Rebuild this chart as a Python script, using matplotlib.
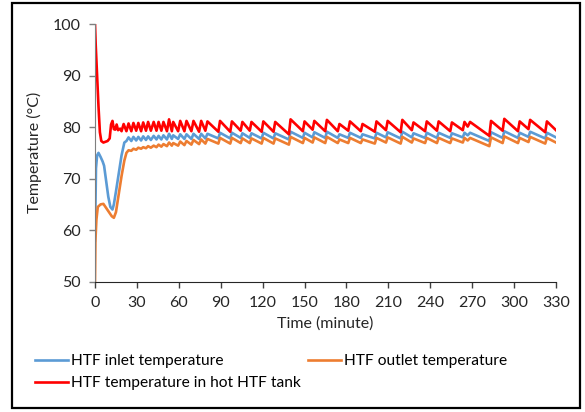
import matplotlib.pyplot as plt
from matplotlib.patches import Rectangle

# HTF temperatures vs time (minutes), vertices
t_tank = [0, 0.5, 1.5, 2.5, 3.5, 4.5, 6, 9, 10.5, 11.5, 12.5, 13.5, 14.5, 15.5, 16.5, 18, 19,
          20.5, 22.5, 24, 26, 27.5, 29.5, 31, 33, 34.5, 36.5, 38, 40, 42, 44, 45.5, 47.5, 49, 51.5,
          53, 55, 56, 59.5, 61, 64, 65.5, 69, 70.5, 74.5, 76, 79, 80.5,
          88.3, 89.5, 96.8, 98, 104.3, 105.5, 110.8, 112, 119.3, 120.5, 127.8, 129, 138.8, 140,
          148.8, 150, 155.8, 157, 164.8, 166, 173.8, 175, 181.3, 182.5, 190.3, 191.5, 200.3, 201.5,
          208.3, 209.5, 218.8, 220, 226.8, 228, 236.3, 237.5, 244.8, 246, 254.3, 255.5, 263.3, 264.5,
          266.8, 268.5, 282.3, 283.5, 291.8, 293, 302.8, 304, 310.3, 311.5, 322.3, 323.5, 330]
T_tank = [100, 96, 90, 84, 79, 77.3, 77.0, 77.3, 77.8, 80.5, 81.2, 79.6, 79.5, 80.5, 79.4, 79.7, 79.2,
          80.6, 79.2, 80.7, 79.2, 80.8, 79.3, 80.8, 79.2, 80.9, 79.3, 81.0, 79.3, 81.0, 79.3, 81.0, 79.3, 81.0, 79.2,
          81.5, 79.2, 81.0, 79.2, 81.2, 79.2, 81.2, 79.2, 81.2, 79.1, 81.2, 79.3, 81.1,
          79.1, 81.2, 79.1, 81.1, 79.3, 81.0, 79.3, 81.0, 79.1, 81.1, 79.1, 81.0, 78.6, 81.5,
          79.2, 81.1, 79.5, 81.2, 79.2, 81.4, 79.2, 80.6, 79.3, 81.1, 79.2, 80.6, 79.1, 81.1,
          79.4, 81.2, 79.0, 81.4, 79.4, 80.9, 79.2, 81.1, 79.3, 81.1, 79.2, 80.9, 79.4, 81.0,
          80.1, 81.0, 78.3, 81.2, 79.3, 81.6, 79.2, 81.1, 79.6, 81.4, 79.0, 81.1, 79.4]

t_in = [0, 0.7, 1.5, 2.5, 4, 5.5, 6.5, 8, 9.5, 11, 12.5, 13.5, 15, 17, 19, 21, 22.5,
        24, 26, 27.5, 29.5, 31, 33, 34.5, 36.5, 38, 40, 42, 44, 45.5, 47.5, 49, 51.5,
        53, 55, 56, 59.5, 61, 64, 65.5, 69, 70.5, 74.5, 76, 79, 80.5,
        88.3, 89.5, 96.8, 98, 104.3, 105.5, 110.8, 112, 119.3, 120.5, 127.8, 129, 138.8, 140,
        148.8, 150, 155.8, 157, 164.8, 166, 173.8, 175, 181.3, 182.5, 190.3, 191.5, 200.3, 201.5,
        208.3, 209.5, 218.8, 220, 226.8, 228, 236.3, 237.5, 244.8, 246, 254.3, 255.5, 263.3, 264.5,
        266.8, 268.5, 282.3, 283.5, 291.8, 293, 302.8, 304, 310.3, 311.5, 322.3, 323.5, 330]
T_in = [58, 72, 74.5, 75, 74.2, 73.3, 72.5, 69.5, 66.5, 64.5, 64, 65, 67.5, 71, 74.5, 77, 77.3,
        78.0, 77.3, 78.1, 77.4, 78.1, 77.4, 78.2, 77.5, 78.2, 77.5, 78.3, 77.6, 78.3, 77.6, 78.4, 77.6,
        78.7, 77.7, 78.4, 77.7, 78.6, 77.7, 78.6, 77.7, 78.7, 77.7, 78.7, 77.8, 78.7,
        77.8, 78.9, 77.8, 78.9, 77.9, 78.8, 77.9, 78.8, 77.8, 78.9, 77.8, 78.8, 77.6, 79.1,
        77.9, 78.9, 78.0, 79.0, 77.9, 79.1, 77.9, 78.6, 77.9, 78.9, 77.9, 78.6, 77.8, 78.9,
        78.0, 79.0, 77.8, 79.1, 78.0, 78.8, 77.9, 78.9, 77.9, 78.9, 77.9, 78.8, 78.0, 78.9,
        78.4, 78.9, 77.3, 79.0, 77.9, 79.2, 77.9, 78.9, 78.1, 79.1, 77.8, 78.9, 78.0]

t_out = [0, 0.3, 1, 2, 4, 6, 8, 10, 12, 13.5, 15, 17, 19, 21, 22.5, 24,
         26, 27.5, 29.5, 31, 33, 34.5, 36.5, 38, 40, 42, 44, 45.5, 47.5, 49, 51.5,
         53, 55, 56, 59.5, 61, 64, 65.5, 69, 70.5, 74.5, 76, 79, 80.5,
         88.3, 89.5, 96.8, 98, 104.3, 105.5, 110.8, 112, 119.3, 120.5, 127.8, 129, 138.8, 140,
         148.8, 150, 155.8, 157, 164.8, 166, 173.8, 175, 181.3, 182.5, 190.3, 191.5, 200.3, 201.5,
         208.3, 209.5, 218.8, 220, 226.8, 228, 236.3, 237.5, 244.8, 246, 254.3, 255.5, 263.3, 264.5,
         266.8, 268.5, 282.3, 283.5, 291.8, 293, 302.8, 304, 310.3, 311.5, 322.3, 323.5, 330]
T_out = [50, 58, 62, 64.5, 65, 65.1, 64.3, 63.5, 62.7, 62.4, 63.5, 67, 70.5, 73.5, 75, 75.5,
         75.4, 75.8, 75.6, 76.0, 75.8, 76.1, 75.9, 76.3, 76.0, 76.4, 76.1, 76.6, 76.2, 76.7, 76.3,
         77.0, 76.4, 76.9, 76.4, 77.2, 76.5, 77.3, 76.6, 77.5, 76.7, 77.6, 76.8, 77.7,
         76.8, 77.9, 76.8, 77.9, 76.9, 77.8, 76.9, 77.8, 76.8, 77.9, 76.8, 77.8, 76.6, 78.1,
         76.9, 77.9, 77.0, 78.0, 76.9, 78.1, 76.9, 77.6, 76.9, 77.9, 76.9, 77.6, 76.8, 77.9,
         77.0, 78.0, 76.8, 78.1, 77.0, 77.8, 76.9, 77.9, 76.9, 77.9, 76.9, 77.8, 77.0, 77.9,
         77.4, 77.9, 76.3, 78.0, 76.9, 78.2, 76.9, 77.9, 77.1, 78.1, 76.8, 77.9, 77.0]

x_ticks = list(range(0, 331, 30))
y_ticks = list(range(50, 101, 10))

plt.rcParams['font.family'] = ['Lato', 'DejaVu Sans']

fig = plt.figure(figsize=(5.85, 4.12), dpi=100)
ax = fig.add_axes([0.1624, 0.3163, 0.788, 0.6254])

l_in, = ax.plot(t_in, T_in, color='#5B9BD5', lw=1.9, label='HTF inlet temperature')
l_out, = ax.plot(t_out, T_out, color='#ED7D31', lw=1.9, label='HTF outlet temperature')
l_tank, = ax.plot(t_tank, T_tank, color='#FF0000', lw=1.9, label='HTF temperature in hot HTF tank')

ax.set_xlim(0, 330)
ax.set_ylim(50, 100)
ax.set_xticks(x_ticks)
ax.set_yticks(y_ticks)
ax.tick_params(direction='out', length=4, width=1, labelsize=11.5, colors='#262626', pad=6)
ax.tick_params(axis='x', color='#404040')
ax.tick_params(axis='y', color='#7f7f7f')
for side in ('top', 'right'):
    ax.spines[side].set_visible(False)
ax.spines['left'].set_color('#7f7f7f')
ax.spines['bottom'].set_color('#262626')
ax.set_xlabel('Time (minute)', fontsize=11.5, color='#262626', labelpad=5)
ax.set_ylabel('Temperature (°C)', fontsize=11.5, color='#262626', labelpad=8)

# legend filled row-wise: inlet, outlet / tank
fig.legend([l_in, l_tank, l_out], [h.get_label() for h in (l_in, l_tank, l_out)],
           loc='upper left', bbox_to_anchor=(0.05, 0.155), ncol=2, frameon=False,
           fontsize=11.2, handlelength=2.1, handletextpad=0.2, columnspacing=0.45,
           labelspacing=0.5, borderaxespad=0)

fig.patches.append(Rectangle((12 / 585, 1 - 408 / 412), 568 / 585, 405 / 412,
                             transform=fig.transFigure, fill=False, ec='black', lw=1.6))

fig.savefig('out.png', dpi=100)
